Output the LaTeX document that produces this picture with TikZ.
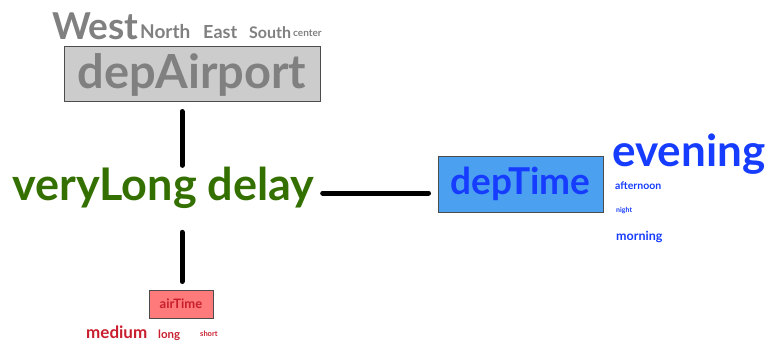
\documentclass[tikz,border=0pt]{standalone}
\usepackage{fontspec}
\setmainfont{Lato}
\usetikzlibrary{positioning}

\definecolor{airportgray}{RGB}{128,128,128}
\definecolor{delaygreen}{RGB}{52,112,0}
\definecolor{timeblue}{RGB}{22,60,255}
\definecolor{boxblue}{RGB}{76,160,240}
\definecolor{airred}{RGB}{200,30,45}
\definecolor{boxred}{RGB}{255,122,122}

\begin{document}
\begin{tikzpicture}[x=1pt, y=-1pt]

\tikzset{
  cell/.style={rectangle, draw=black!70, line width=1pt, inner sep=0pt},
  word/.style={inner sep=0pt, anchor=base west},
  link/.style={draw, line width=5pt, line cap=round},
}

\useasboundingbox (0,0) rectangle (765,342);

% main boxes
\node (depAirport) [cell, fill=gray!40, minimum width=256pt, minimum height=55pt] at (192,74.5)
  {\bfseries\fontsize{47}{50}\selectfont\color{airportgray}depAirport};
\node (delay) [word, anchor=base, text=delaygreen, font=\bfseries\fontsize{45}{48}\selectfont] at (163.5,200) {veryLong delay};
\node (depTime) [cell, fill=boxblue, minimum width=165pt, minimum height=56pt] at (520.5,184)
  {\bfseries\fontsize{37}{40}\selectfont\color{timeblue}depTime};
\node (airTime) [cell, fill=boxred, minimum width=64pt, minimum height=28pt] at (181,304)
  {\bfseries\fontsize{13}{15}\selectfont\color{airred}airTime};

% airport values
\node (west) [word, text=airportgray, font=\bfseries\fontsize{37}{40}\selectfont] at (52,40) {West};
\node (north) [word, text=airportgray, font=\bfseries\fontsize{19}{22}\selectfont] at (140,39) {North};
\node (east) [word, text=airportgray, font=\bfseries\fontsize{18}{22}\selectfont] at (203,39) {East};
\node (south) [word, text=airportgray, font=\bfseries\fontsize{16}{20}\selectfont] at (249,39) {South};
\node (center) [word, text=airportgray, font=\bfseries\fontsize{10}{12}\selectfont] at (293,37) {center};

% time values
\node (evening) [word, text=timeblue, font=\bfseries\fontsize{44}{48}\selectfont] at (612,166) {evening};
\node (afternoon) [word, text=timeblue, font=\bfseries\fontsize{10.5}{13}\selectfont] at (615,189) {afternoon};
\node (night) [word, text=timeblue, font=\bfseries\fontsize{7}{9}\selectfont] at (616,212) {night};
\node (morning) [word, text=timeblue, font=\bfseries\fontsize{12.5}{15}\selectfont] at (616,240) {morning};

% airtime values
\node (medium) [word, text=airred, font=\bfseries\fontsize{17}{20}\selectfont] at (86,338) {medium};
\node (long) [word, text=airred, font=\bfseries\fontsize{11.5}{14}\selectfont] at (158,338) {long};
\node (short) [word, text=airred, font=\bfseries\fontsize{7.5}{9}\selectfont] at (200,336) {short};

% Connections
\coordinate (stem) at (182,0);
\coordinate (wire) at (0,193);
\draw[link, shorten <=9pt, shorten >=1pt] (depAirport.south -| stem) -- (delay.north -| stem);
\draw[link, shorten <=24pt, shorten >=8pt] (delay.south -| stem) -- (airTime.north -| stem);
\draw[link, shorten <=8pt, shorten >=9pt] (delay.east |- wire) -- (depTime.west |- wire);

\end{tikzpicture}
\end{document}
